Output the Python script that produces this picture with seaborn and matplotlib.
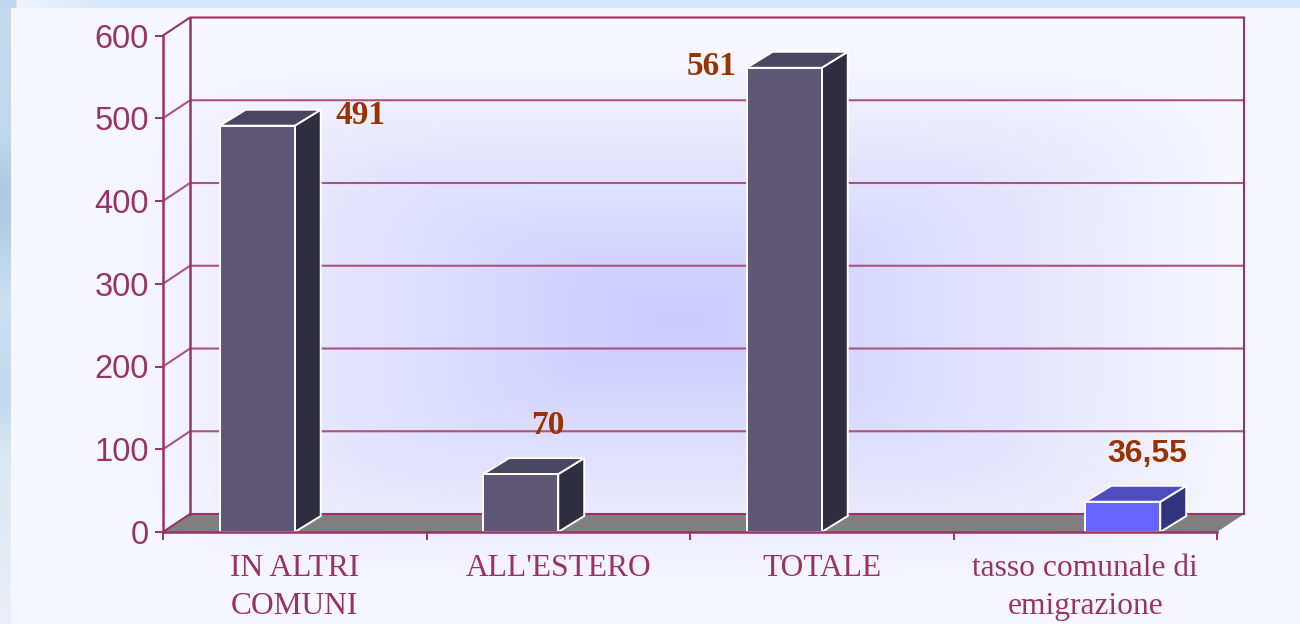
import numpy as np
import pandas as pd
import matplotlib
matplotlib.use('Agg')
import matplotlib.pyplot as plt
from matplotlib.colors import to_rgb
from matplotlib.patches import Polygon, Rectangle
import seaborn as sns

# --- data ---
categories = ['IN ALTRI\nCOMUNI', "ALL'ESTERO", 'TOTALE', 'tasso comunale di\nemigrazione']
residents = [491, 70, 561, np.nan]
rate = [np.nan, np.nan, np.nan, 36.55]
bar_labels = ['491', '70', '561', '36,55']
y_ticks = [0, 100, 200, 300, 400, 500, 600]

# --- layout, in pixels of the 1300x624 image ---
W, H = 1300, 624
X0, X1 = 163, 1217
Y0, Y600 = 532, 35.5
WALL_DX, WALL_DY = 27, 18
BAR_DX, BAR_DY = 26, 16
BAR_W = 75
# label centre relative to the top centre of its bar front
LABEL_OFFSETS = [(103, 10), (27, 49), (-73, 1), (24, 48)]

LINE = '#993366'
GRID = '#A8557F'
VALUE = '#993300'
FACES = {'dark': ('#5F5775', '#2F2D40', '#4A4560'), 'blue': ('#6666FF', '#333380', '#4D4DBF')}

plt.rcParams['font.family'] = ['Liberation Serif', 'DejaVu Sans']
fig = plt.figure(figsize=(W / 100, H / 100), dpi=100)


def background():
    yy, xx = np.mgrid[0:H, 0:W]
    edge = np.array(to_rgb('#F7F7FF'))
    centre = np.array(to_rgb('#CACAFF'))
    # squarish gradient, as a rectangular fill
    r = (np.abs((xx - 680) / 560) ** 6 + np.abs((yy - 320) / 265) ** 6) ** (1 / 6)
    t = np.clip(1 - r, 0, 1)[..., None]
    img = edge + (centre - edge) * t

    # pale blue picture behind the panel
    top_stops = [to_rgb(c) for c in ('#C0D8EE', '#EEF4FC', '#D5E7FB', '#D5E7FB')]
    for i in range(3):
        img[:8, :, i] = np.interp(xx[0], [15, 17, 120, W], [s[i] for s in top_stops])
    left_y = [0, 130, 190, 230, 300, 400, 460, 624]
    left_c = [to_rgb(c) for c in ('#C8DBEE', '#C3D8EC', '#AECBE6', '#B4CFE8',
                                  '#CFE0F2', '#C4DAF0', '#DCE8F5', '#EAF0F9')]
    for i in range(3):
        img[8:, :11, i] = np.interp(yy[8:, 0], left_y, [c[i] for c in left_c])[:, None]
    return img


bg = fig.add_axes([0, 0, 1, 1], zorder=0)
bg.imshow(background(), aspect='auto', interpolation='bilinear')
bg.axis('off')

ax = fig.add_axes([X0 / W, 1 - Y0 / H, (X1 - X0) / W, (Y0 - Y600) / H], zorder=1)
ax.patch.set_alpha(0)

df = pd.DataFrame({
    'category': categories * 2,
    'series': ['dark'] * 4 + ['blue'] * 4,
    'value': residents + rate,
})
cat_px = (X1 - X0) / len(categories)
sns.barplot(data=df, x='category', y='value', hue='series', order=categories,
            hue_order=['dark', 'blue'], palette={k: v[0] for k, v in FACES.items()},
            width=2 * BAR_W / cat_px, dodge=True, legend=False, ax=ax, saturation=1,
            edgecolor='white', linewidth=1.4, zorder=5, clip_on=False)

ax.set_xlim(-0.5, len(categories) - 0.5)
ax.set_ylim(0, 600)
ax.set_xlabel('')
ax.set_ylabel('')

unit_x = 1 / cat_px
unit_y = 600 / (Y0 - Y600)
wall_x, wall_y = WALL_DX * unit_x, WALL_DY * unit_y
bar_x, bar_y = BAR_DX * unit_x, BAR_DY * unit_y
xl, xr = ax.get_xlim()

# floor and back wall
ax.add_patch(Polygon([(xl, 0), (xr, 0), (xr + wall_x, wall_y), (xl + wall_x, wall_y)],
                     facecolor='#808080', edgecolor='none', zorder=2, clip_on=False))
for tick in y_ticks:
    ax.plot([xl, xl + wall_x, xr + wall_x], [tick, tick + wall_y, tick + wall_y],
            color=LINE if tick in (0, 600) else GRID, lw=1.5, zorder=3, clip_on=False)
ax.plot([xl + wall_x] * 2, [wall_y, 600 + wall_y], color=LINE, lw=1.8, zorder=3, clip_on=False)
ax.plot([xr + wall_x] * 2, [wall_y, 600 + wall_y], color=LINE, lw=1.5, zorder=3, clip_on=False)

# side and top faces of the bars, taken from the drawn bars
bars = [p for p in ax.patches if isinstance(p, Rectangle) and p.get_height() > 0]
bars = sorted(bars, key=lambda p: p.get_x())
for bar, text, (off_x, off_y) in zip(bars, bar_labels, LABEL_OFFSETS):
    x_a, x_b, h = bar.get_x(), bar.get_x() + bar.get_width(), bar.get_height()
    is_blue = text == bar_labels[-1]
    front, side, top = FACES['blue' if is_blue else 'dark']
    ax.add_patch(Polygon([(x_b, 0), (x_b + bar_x, bar_y), (x_b + bar_x, h + bar_y), (x_b, h)],
                         facecolor=side, edgecolor='white', lw=1.4, zorder=4, clip_on=False))
    ax.add_patch(Polygon([(x_a, h), (x_a + bar_x, h + bar_y), (x_b + bar_x, h + bar_y), (x_b, h)],
                         facecolor=top, edgecolor='white', lw=1.4, zorder=4, clip_on=False))
    ax.annotate(text, xy=((x_a + x_b) / 2, h), xytext=(off_x * 0.72, off_y * 0.72),
                textcoords='offset points', ha='center', va='center',
                fontsize=23 if is_blue else 24, fontweight='bold',
                color=VALUE, family=['Liberation Sans'] if is_blue else ['Liberation Serif'], zorder=6)

# axes
for name in ('top', 'right'):
    ax.spines[name].set_visible(False)
for name in ('left', 'bottom'):
    ax.spines[name].set_color(LINE)
    ax.spines[name].set_linewidth(1.8)
    ax.spines[name].set_zorder(7)

ax.set_yticks(y_ticks)
ax.tick_params(axis='y', length=6, width=1.4, color=LINE, labelcolor=LINE, pad=4, labelsize=23.5)
for lab in ax.get_yticklabels():
    lab.set_family(['Liberation Sans'])
ax.set_xticks(np.arange(len(categories)))
ax.set_xticklabels(categories, fontsize=22.7, color=LINE, linespacing=1.38)
ax.tick_params(axis='x', which='major', length=0, pad=16)
ax.set_xticks(np.arange(len(categories) + 1) - 0.5, minor=True)
ax.tick_params(axis='x', which='minor', length=6, width=1.4, color=LINE)

fig.savefig('out.png', dpi=100)
plt.close(fig)
